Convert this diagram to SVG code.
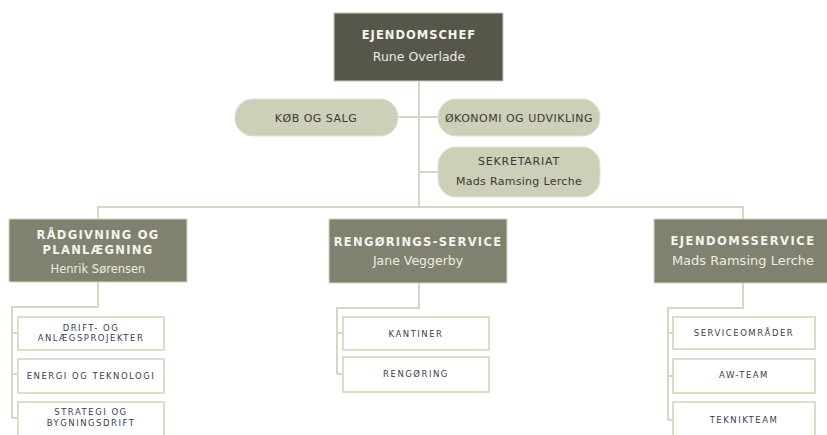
<svg xmlns="http://www.w3.org/2000/svg" width="827" height="435" viewBox="0 0 827 435">
<style>
.ln{fill:none;stroke:#d5d7c2;stroke-width:2}
.top{fill:#56574a;stroke:#c9cab8;stroke-width:1}
.head{fill:#80826f;stroke:#d5d7c2;stroke-width:1}
.pill{fill:#cdcfb8;stroke:#dfe1cf;stroke-width:1}
.sub{fill:#ffffff;stroke:#dcddcb;stroke-width:2}
text{font-family:"DejaVu Sans",Verdana,sans-serif;text-anchor:middle}
.ht{font-size:11.5px;font-weight:bold;fill:#f4f4ee;letter-spacing:1.3px}
.hn{font-size:12.5px;fill:#ececE2}
.pt{font-size:11px;fill:#3a3a34;letter-spacing:0.5px}
.st{font-size:8.5px;fill:#3c3c50;letter-spacing:1.5px}
</style>
<g id="connectors">
<path class="ln" d="M419 81V207"/>
<path class="ln" d="M398 117H438"/>
<path class="ln" d="M419 172H438"/>
<path class="ln" d="M98 219V207H743V219"/>
<path class="ln" d="M98 282V307H12V418"/>
<path class="ln" d="M12 333H18M12 374H18M12 418H18"/>
<path class="ln" d="M419 283V308H337V374"/>
<path class="ln" d="M337 333H343M337 374H343"/>
<path class="ln" d="M743 283V308H668V420"/>
<path class="ln" d="M668 333H673M668 376H673M668 420H673"/>
</g>
<g id="ejendomschef">
<rect class="top" x="334" y="13" width="169" height="68"/>
<text class="ht" x="419" y="39" style="letter-spacing:1px">EJENDOMSCHEF</text>
<text class="hn" x="419" y="61">Rune Overlade</text>
</g>
<g id="kob-og-salg">
<rect class="pill" x="235" y="99" width="163" height="37" rx="18"/>
<text class="pt" x="316" y="122">KØB OG SALG</text>
</g>
<g id="okonomi">
<rect class="pill" x="438" y="99" width="162" height="37" rx="18"/>
<text class="pt" x="519" y="122">ØKONOMI OG UDVIKLING</text>
</g>
<g id="sekretariat">
<rect class="pill" x="438" y="147" width="162" height="50" rx="18"/>
<text class="pt" x="519" y="165" style="letter-spacing:0.8px">SEKRETARIAT</text>
<text class="pt" x="519" y="185" style="letter-spacing:0.3px">Mads Ramsing Lerche</text>
</g>
<g id="radgivning">
<rect class="head" x="9" y="219" width="178" height="63"/>
<text class="ht" x="98" y="239">RÅDGIVNING OG</text>
<text class="ht" x="98" y="254">PLANLÆGNING</text>
<text class="hn" x="98" y="273" style="font-size:11.5px">Henrik Sørensen</text>
</g>
<g id="rengoringsservice">
<rect class="head" x="329" y="219" width="178" height="64"/>
<text class="ht" x="418" y="246">RENGØRINGS-SERVICE</text>
<text class="hn" x="418" y="265">Jane Veggerby</text>
</g>
<g id="ejendomsservice">
<rect class="head" x="654" y="219" width="180" height="64"/>
<text class="ht" x="743" y="245" style="letter-spacing:1.5px">EJENDOMSSERVICE</text>
<text class="hn" x="743" y="265" style="font-size:13px">Mads Ramsing Lerche</text>
</g>
<g id="drift">
<rect class="sub" x="18" y="317" width="146" height="33"/>
<text class="st" x="91" y="331">DRIFT- OG</text>
<text class="st" x="91" y="341">ANLÆGSPROJEKTER</text>
</g>
<g id="energi">
<rect class="sub" x="18" y="359" width="146" height="34"/>
<text class="st" x="91" y="379">ENERGI OG TEKNOLOGI</text>
</g>
<g id="strategi">
<rect class="sub" x="18" y="402" width="146" height="40"/>
<text class="st" x="91" y="415">STRATEGI OG</text>
<text class="st" x="91" y="426">BYGNINGSDRIFT</text>
</g>
<g id="kantiner">
<rect class="sub" x="343" y="317" width="146" height="33"/>
<text class="st" x="416" y="337">KANTINER</text>
</g>
<g id="rengoring">
<rect class="sub" x="343" y="357" width="146" height="35"/>
<text class="st" x="416" y="377">RENGØRING</text>
</g>
<g id="serviceomrader">
<rect class="sub" x="673" y="317" width="142" height="32"/>
<text class="st" x="744" y="336">SERVICEOMRÅDER</text>
</g>
<g id="aw-team">
<rect class="sub" x="673" y="359" width="142" height="34"/>
<text class="st" x="744" y="378">AW-TEAM</text>
</g>
<g id="teknikteam">
<rect class="sub" x="673" y="402" width="142" height="40"/>
<text class="st" x="744" y="423">TEKNIKTEAM</text>
</g>
</svg>
